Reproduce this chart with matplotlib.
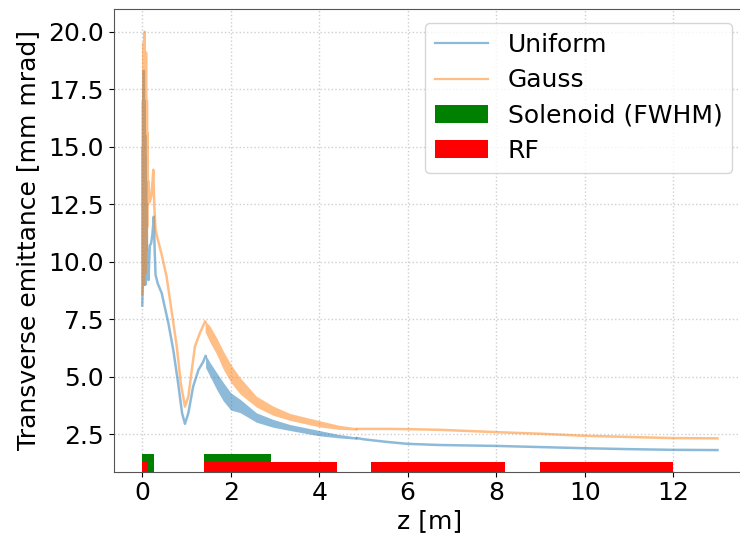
import matplotlib
matplotlib.use("Agg")
import matplotlib.pyplot as plt

# ---------------- data ----------------
# Uniform: early part (including the oscillating spike region near the gun)
uni_z1 = [0.00, 0.010, 0.015, 0.020, 0.025, 0.030, 0.035, 0.040, 0.045, 0.050,
          0.055, 0.060, 0.065, 0.070, 0.075, 0.080, 0.085, 0.090, 0.100, 0.110,
          0.120, 0.140, 0.170, 0.200, 0.230, 0.260, 0.280, 0.300, 0.350, 0.440,
          0.500, 0.590, 0.700, 0.810, 0.900, 0.965, 1.040, 1.150, 1.270, 1.380, 1.430]
uni_y1 = [8.1, 9.0, 15.0, 9.2, 17.5, 9.0, 18.3, 9.5, 16.0, 9.0,
          17.0, 9.5, 15.5, 9.0, 14.5, 9.5, 13.5, 9.3, 12.5, 9.4,
          10.5, 9.2, 10.7, 10.8, 11.2, 11.96, 10.5, 9.43, 9.05, 8.63,
          8.1, 7.33, 6.17, 4.72, 3.41, 2.95, 3.41, 4.57, 5.30, 5.66, 5.90]
# Uniform: fast-oscillating band (envelopes)
uni_bz = [1.43, 1.53, 1.68, 1.83, 2.00, 2.21, 2.58, 2.96, 3.34, 4.00, 4.44, 4.85]
uni_lo = [5.40, 5.02, 4.45, 3.95, 3.55, 3.44, 3.02, 2.80, 2.66, 2.43, 2.34, 2.28]
uni_hi = [5.95, 5.62, 5.18, 4.75, 4.30, 4.02, 3.43, 3.14, 2.92, 2.66, 2.49, 2.38]
# Uniform: tail
uni_z2 = [4.85, 5.0, 5.5, 6.0, 6.73, 8.0, 9.0, 10.0, 11.0, 12.0, 13.0]
uni_y2 = [2.33, 2.28, 2.17, 2.08, 2.03, 1.99, 1.94, 1.89, 1.85, 1.82, 1.81]

# Gauss: early part
gau_z1 = [0.00, 0.010, 0.015, 0.020, 0.025, 0.030, 0.035, 0.040, 0.045, 0.050,
          0.055, 0.060, 0.065, 0.070, 0.075, 0.080, 0.085, 0.090, 0.095, 0.100,
          0.105, 0.110, 0.120, 0.130, 0.140, 0.170, 0.210, 0.250, 0.270, 0.300,
          0.360, 0.440, 0.550, 0.660, 0.780, 0.870, 0.965, 1.040, 1.120, 1.190,
          1.300, 1.420]
gau_y1 = [8.6, 9.5, 17.0, 10.0, 19.5, 9.5, 18.5, 9.0, 17.8, 10.0,
          20.0, 10.5, 18.0, 9.5, 17.5, 10.0, 19.1, 10.5, 16.5, 11.0,
          17.0, 11.5, 15.6, 12.5, 13.5, 12.6, 12.9, 14.0, 12.5, 11.38,
          10.9, 10.3, 9.35, 7.90, 6.31, 4.72, 3.70, 4.13, 5.30, 6.31,
          6.89, 7.40]
# Gauss: band envelopes
gau_bz = [1.42, 1.53, 1.68, 1.83, 2.00, 2.21, 2.58, 2.96, 3.34, 4.00, 4.44, 4.85]
gau_lo = [6.95, 6.50, 5.98, 5.33, 4.76, 4.25, 3.68, 3.32, 3.10, 2.82, 2.71, 2.68]
gau_hi = [7.44, 7.20, 6.70, 6.12, 5.54, 4.96, 4.15, 3.72, 3.40, 3.09, 2.89, 2.78]
# Gauss: tail
gau_z2 = [4.85, 5.6, 6.0, 6.73, 8.0, 9.0, 10.0, 11.0, 12.0, 13.0]
gau_y2 = [2.73, 2.73, 2.72, 2.69, 2.59, 2.52, 2.43, 2.38, 2.33, 2.32]

# Beamline elements
sol_start = [0.00, 1.39]
sol_len = [0.27, 1.52]
rf_start = [0.00, 1.39, 5.18, 8.98]
rf_len = [0.14, 3.02, 3.02, 3.02]
elem_base = 0.87
sol_h = 0.76
rf_h = 0.40

# ---------------- plot ----------------
plt.rcParams['font.family'] = ['DejaVu Sans']
FS = 18
fig = plt.figure(figsize=(7.4, 5.36), dpi=100)
ax = fig.add_axes([0.1534, 0.1200, 0.855, 0.8627])

c_uni = 'C0'
c_gau = 'C1'
a = 0.5
LW = 1.8
ax.plot(uni_z1, uni_y1, color=c_uni, alpha=a, lw=LW, label='Uniform')
ax.fill_between(uni_bz, uni_lo, uni_hi, color=c_uni, alpha=a, lw=0)
ax.plot(uni_z2, uni_y2, color=c_uni, alpha=a, lw=LW)

ax.plot(gau_z1, gau_y1, color=c_gau, alpha=a, lw=LW, label='Gauss')
ax.fill_between(gau_bz, gau_lo, gau_hi, color=c_gau, alpha=a, lw=0)
ax.plot(gau_z2, gau_y2, color=c_gau, alpha=a, lw=LW)

ax.bar(sol_start, sol_h, width=sol_len, bottom=elem_base, align='edge',
       color='green', label='Solenoid (FWHM)')
ax.bar(rf_start, rf_h, width=rf_len, bottom=elem_base, align='edge',
       color='red', label='RF')

ax.set_xlim(-0.65, 13.65)
ax.set_ylim(0.87, 20.98)
ax.set_xticks([0, 2, 4, 6, 8, 10, 12])
ax.set_yticks([2.5, 5.0, 7.5, 10.0, 12.5, 15.0, 17.5, 20.0])
ax.tick_params(labelsize=FS)
ax.grid(True, linestyle=':', color='#cfcfcf', lw=1)
ax.set_axisbelow(True)
ax.set_xlabel('z [m]', fontsize=FS, labelpad=3)
ax.set_ylabel('Transverse emittance [mm mrad]', fontsize=FS, labelpad=6)
for s in ax.spines.values():
    s.set_color('#555555')
ax.spines['right'].set_visible(False)
leg = ax.legend(loc='upper right', fontsize=18, handlelength=2.1,
                labelspacing=0.45, borderaxespad=0.55)
for h in leg.get_lines():
    h.set_linewidth(1.6)

fig.savefig('out.png', dpi=100)
